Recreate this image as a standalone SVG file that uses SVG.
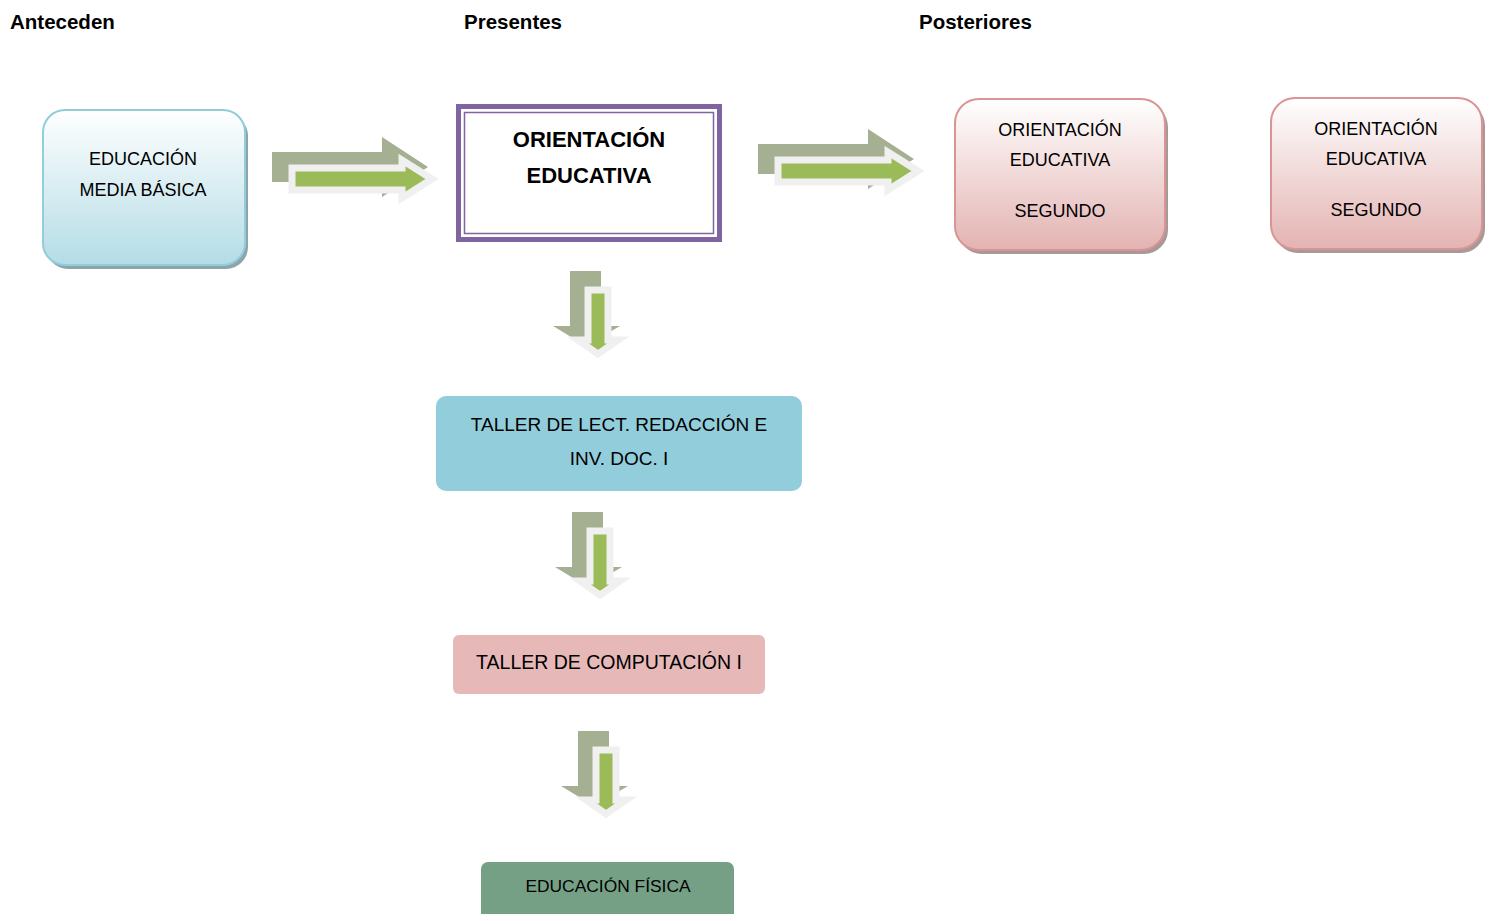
<svg xmlns="http://www.w3.org/2000/svg" width="1491" height="914" viewBox="0 0 1491 914">
<style>
text{font-family:"Liberation Sans",Arial,sans-serif;fill:#000;text-anchor:middle;font-size:18px}
text.hdr{font-weight:bold;font-size:20.5px;text-anchor:start}
text.big{font-weight:bold;font-size:22px}
text.t19{font-size:19px}
text.t195{font-size:19.5px}
text.t17{font-size:17.4px}
.back{fill:#a5b092}
.front{fill:#9bbb59;stroke:#f0f0f0;stroke-width:7;stroke-linejoin:miter}
</style>
<defs>
<linearGradient id="gBlue" x1="0" y1="0" x2="0" y2="1">
<stop offset="0" stop-color="#ffffff"/><stop offset="1" stop-color="#b4dce6"/>
</linearGradient>
<linearGradient id="gPink" x1="0" y1="0" x2="0" y2="1">
<stop offset="0" stop-color="#ffffff"/><stop offset="1" stop-color="#e3b3b2"/>
</linearGradient>
<g id="harrow">
<path class="back" d="M272 152 H382 V137 L428 167 L382 197 V182 H272 Z"/>
<path class="front" d="M292 168 H402 V160 L432 179 L402 198 V190 H292 Z"/>
</g>
<g id="varrow">
<path class="back" d="M570 271 H601 V326 H620 L586 346 L553 326 H570 Z"/>
<path class="front" d="M588 290 H608 V340 H618 L598 354 L578 340 H588 Z"/>
</g>
</defs>

<g id="headers">
<text class="hdr" x="10" y="29">Anteceden</text>
<text class="hdr" x="464" y="29">Presentes</text>
<text class="hdr" x="919" y="29">Posteriores</text>
</g>

<g id="connectors">
<use href="#harrow"/>
<use href="#harrow" transform="translate(486,-8)"/>
<use href="#varrow"/>
<use href="#varrow" transform="translate(2,241)"/>
<use href="#varrow" transform="translate(8,460)"/>
</g>

<g id="node-emb">
<rect x="46" y="114" width="202" height="155" rx="22" fill="#8fa3aa"/>
<rect x="43" y="110" width="202" height="155" rx="22" fill="url(#gBlue)" stroke="#92cddc" stroke-width="2"/>
<text x="143" y="165">EDUCACIÓN</text>
<text x="143" y="196">MEDIA BÁSICA</text>
</g>

<g id="node-oe">
<rect x="458.5" y="106.5" width="261" height="133" fill="#fff" stroke="#8064a2" stroke-width="5"/>
<rect x="464.5" y="112.5" width="249" height="121" fill="none" stroke="#8064a2" stroke-width="1.5"/>
<text class="big" x="589" y="147">ORIENTACIÓN</text>
<text class="big" x="589" y="183">EDUCATIVA</text>
</g>

<g id="node-post1">
<rect x="958" y="103" width="210" height="151" rx="24" fill="#a89898"/>
<rect x="955" y="99" width="210" height="151" rx="24" fill="url(#gPink)" stroke="#d99594" stroke-width="2"/>
<text x="1060" y="136">ORIENTACIÓN</text>
<text x="1060" y="166">EDUCATIVA</text>
<text x="1060" y="217">SEGUNDO</text>
</g>

<g id="node-post2">
<rect x="1274" y="102" width="211" height="151" rx="24" fill="#a89898"/>
<rect x="1271" y="98" width="211" height="151" rx="24" fill="url(#gPink)" stroke="#d99594" stroke-width="2"/>
<text x="1376" y="135">ORIENTACIÓN</text>
<text x="1376" y="165">EDUCATIVA</text>
<text x="1376" y="216">SEGUNDO</text>
</g>

<g id="node-taller-lect">
<rect x="436" y="396" width="366" height="95" rx="10" fill="#92cddc"/>
<text class="t19" x="619" y="431">TALLER DE LECT. REDACCIÓN E</text>
<text class="t19" x="619" y="465">INV. DOC. I</text>
</g>

<g id="node-taller-comp">
<rect x="453" y="635" width="312" height="59" rx="6" fill="#e6b9b8"/>
<text class="t195" x="609" y="669">TALLER DE COMPUTACIÓN I</text>
</g>

<g id="node-ef">
<rect x="481" y="862" width="253" height="60" rx="7" fill="#76a085"/>
<text class="t17" x="608" y="892">EDUCACIÓN FÍSICA</text>
</g>
</svg>
